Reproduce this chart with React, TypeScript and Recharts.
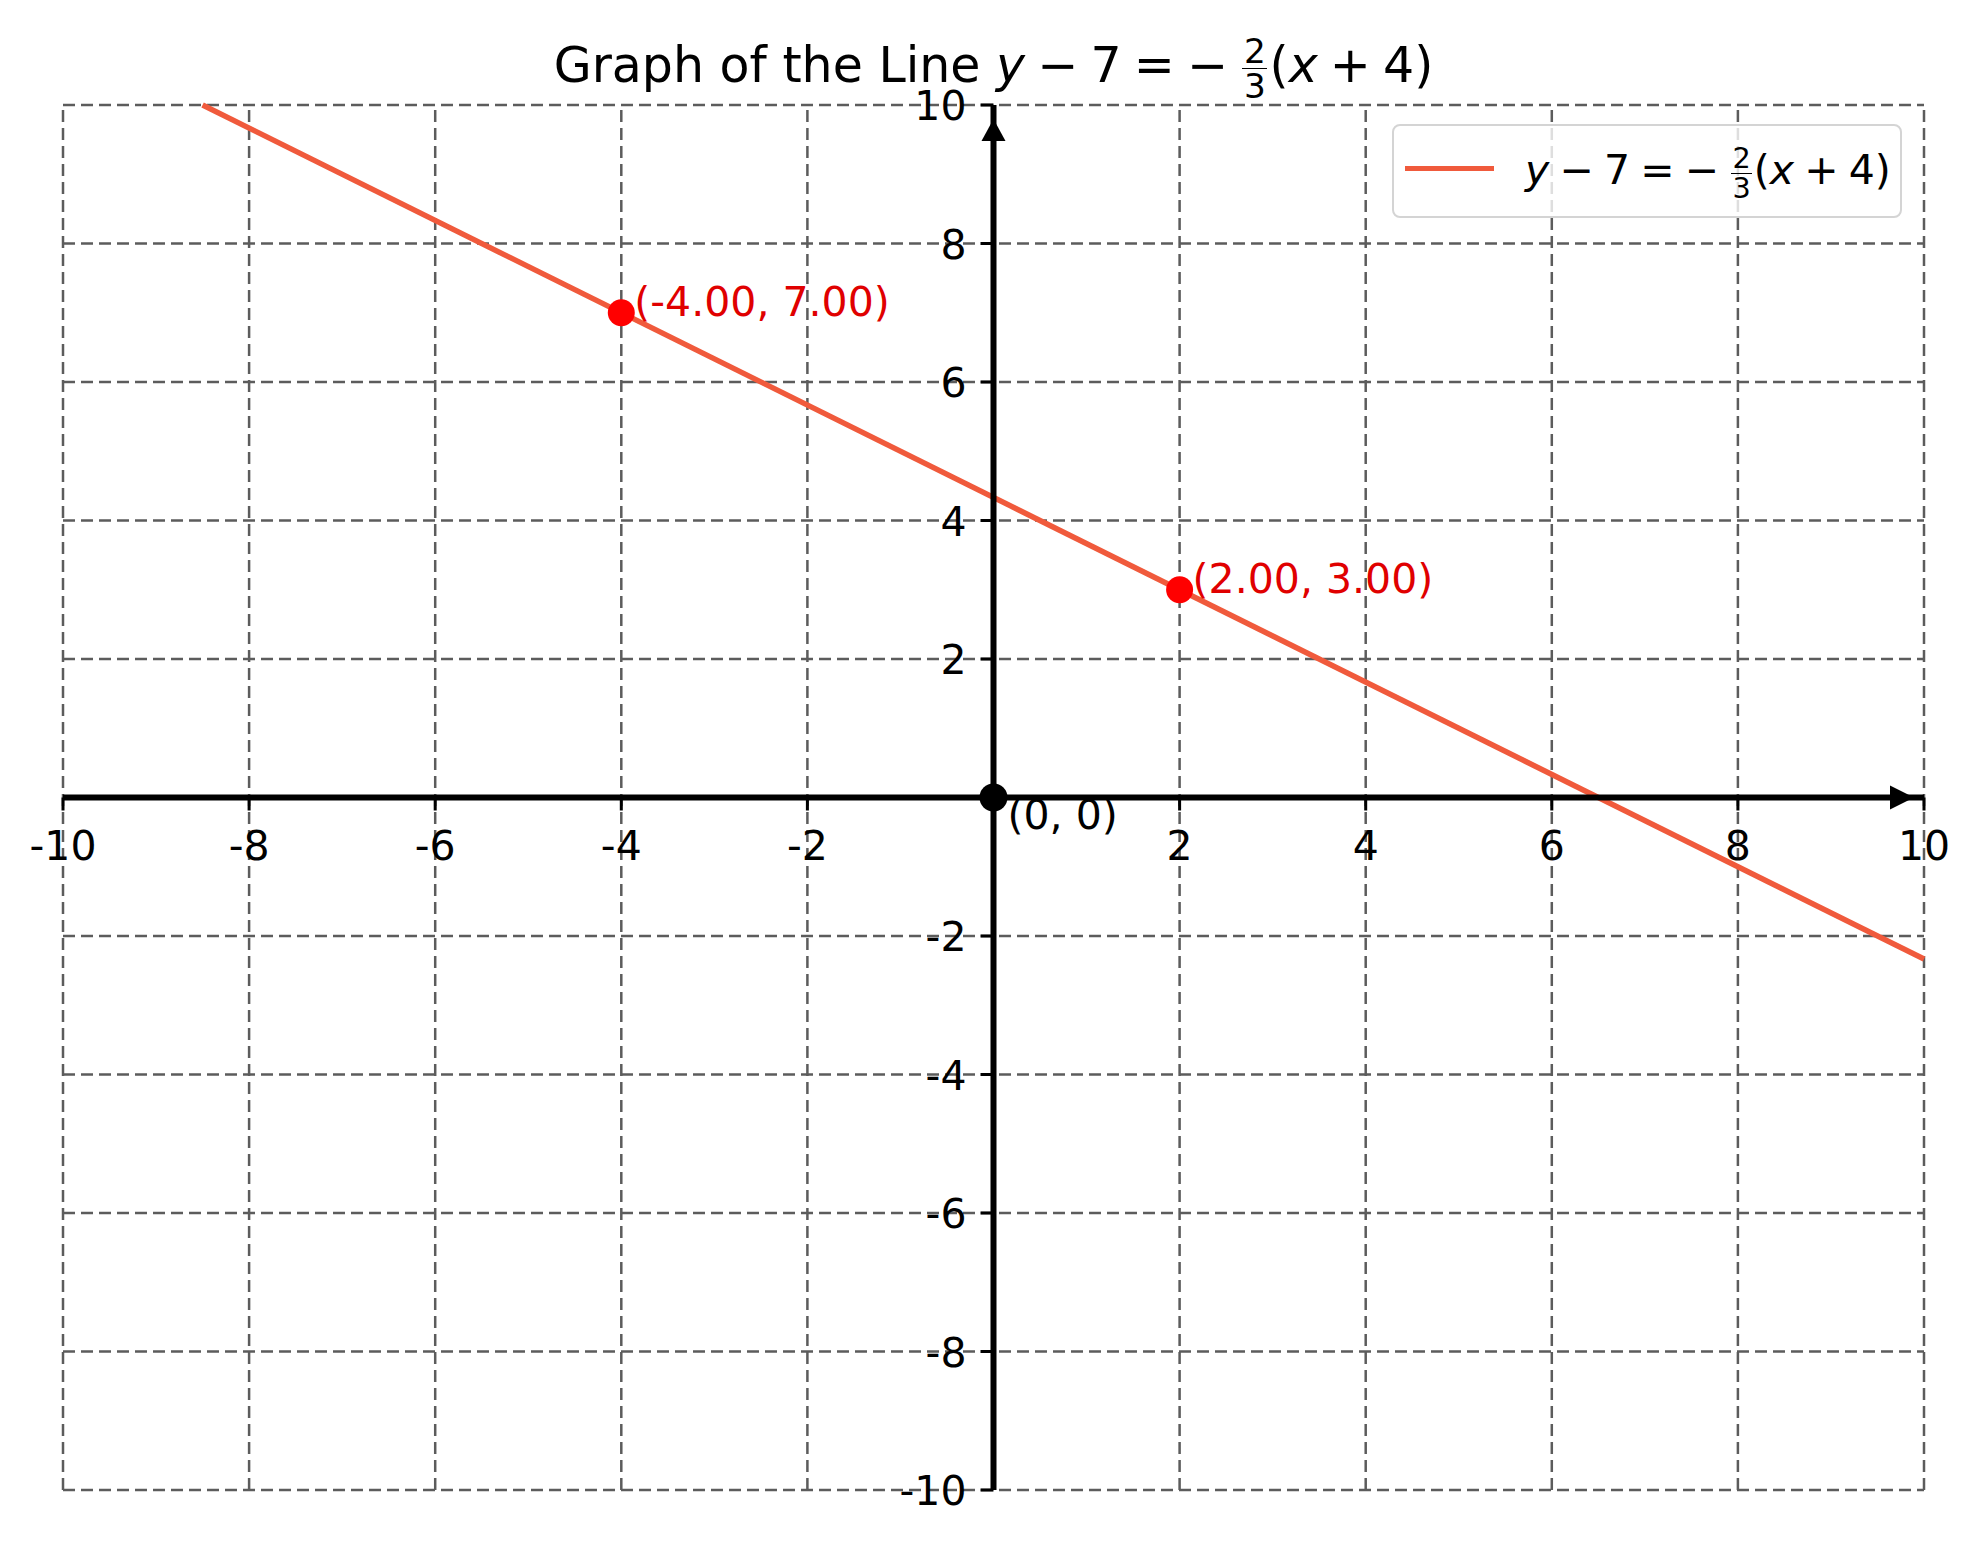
import React from 'react';
import {
    ComposedChart, Line, Scatter, XAxis, YAxis, ReferenceLine,
} from 'recharts';

// values
const gridTicks = [-10, -8, -6, -4, -2, 0, 2, 4, 6, 8, 10];
const xTickLabels = [-10, -8, -6, -4, -2, 2, 4, 6, 8, 10];
const yTickLabels = [-10, -8, -6, -4, -2, 2, 4, 6, 8, 10];
const lineX = [-8.5, 10];
const lineY = [10, -2.333];
const markedX = [-4, 2];
const markedY = [7, 3];
const markedLabels = ['(-4.00, 7.00)', '(2.00, 3.00)'];
const originLabel = '(0, 0)';

const lineData = lineX.map((x, i) => ({ x, y: lineY[i] }));
const markedData = markedX.map((x, i) => ({ x, y: markedY[i], label: markedLabels[i] }));
const originData = [{ x: 0, y: 0, label: originLabel }];
const xTickData = xTickLabels.map(v => ({ x: v, y: 0 }));
const yTickData = yTickLabels.map(v => ({ x: 0, y: v }));

const W = 1980;
const H = 1546;
const FONT = '"DejaVu Sans", sans-serif';
const LINE_COLOR = '#f05a3c';
const GRID = { stroke: '#5c5c5c', strokeDasharray: '12 6', strokeWidth: 2.5 };

function Frac({ n, d }: { n: string; d: string }) {
    return (
        <span style={{
            display: 'inline-flex', flexDirection: 'column', alignItems: 'center',
            verticalAlign: 'middle', fontSize: '0.7em', lineHeight: 1.0, margin: '0 0.06em',
        }}>
            <span>{n}</span>
            <span style={{ borderTop: '1.5px solid #000', padding: '0 0.05em' }}>{d}</span>
        </span>
    );
}

function Equation() {
    return (
        <span style={{ wordSpacing: '-0.07em' }}>
            <i>y</i> − 7 = − <Frac n="2" d="3" />(<i>x</i> + 4)
        </span>
    );
}

const XTick = (p: any) => (
    <g>
        <line x1={p.cx} y1={p.cy} x2={p.cx} y2={p.cy + 13} stroke="#000" strokeWidth={3} />
        <text x={p.cx} y={p.cy + 62} textAnchor="middle" fontSize={41} fontFamily={FONT} fill="#000">
            {p.payload.x}
        </text>
    </g>
);

const YTick = (p: any) => (
    <g>
        <line x1={p.cx - 13} y1={p.cy} x2={p.cx} y2={p.cy} stroke="#000" strokeWidth={3} />
        <text x={p.cx - 27} y={p.cy + 15} textAnchor="end" fontSize={41} fontFamily={FONT} fill="#000">
            {p.payload.y}
        </text>
    </g>
);

const MarkedPoint = (p: any) => (
    <g>
        <circle cx={p.cx} cy={p.cy} r={13.5} fill="#ff0000" />
        <text x={p.cx + 13} y={p.cy + 3} fontSize={41} fontFamily={FONT} fill="#e00000">
            {p.payload.label}
        </text>
    </g>
);

const OriginPoint = (p: any) => (
    <g>
        <circle cx={p.cx} cy={p.cy} r={14} fill="#000" />
        <text x={p.cx + 14} y={p.cy + 31} fontSize={41} fontFamily={FONT} fill="#000">
            {p.payload.label}
        </text>
    </g>
);

const RightArrow = (p: any) => (
    <polygon points={`${p.cx - 10},${p.cy} ${p.cx - 34},${p.cy - 12} ${p.cx - 34},${p.cy + 12}`} fill="#000" />
);

const UpArrow = (p: any) => (
    <polygon points={`${p.cx},${p.cy + 14} ${p.cx - 12},${p.cy + 36} ${p.cx + 12},${p.cy + 36}`} fill="#000" />
);

export default function App() {
    return (
        <div style={{ position: 'absolute', left: 0, top: 0, width: W, height: H, background: '#fff', fontFamily: FONT }}>
            <div style={{
                position: 'absolute', left: 63, width: 1861, top: 34, textAlign: 'center',
                fontSize: 49, lineHeight: 1, color: '#000', whiteSpace: 'nowrap',
            }}>
                Graph of the Line <Equation />
            </div>

            <ComposedChart width={W} height={H} margin={{ top: 105, right: 56, bottom: 56, left: 63 }}>
                <XAxis type="number" dataKey="x" domain={[-10, 10]} ticks={gridTicks}
                    tick={false} axisLine={false} tickLine={false} height={0} />
                <YAxis type="number" dataKey="y" domain={[-10, 10]} ticks={gridTicks}
                    tick={false} axisLine={false} tickLine={false} width={0} />
                {gridTicks.map(v => <ReferenceLine key={`gx${v}`} x={v} {...GRID} />)}
                {gridTicks.map(v => <ReferenceLine key={`gy${v}`} y={v} {...GRID} />)}
                <Line data={lineData} dataKey="y" type="linear" stroke={LINE_COLOR} strokeWidth={5.5}
                    dot={false} activeDot={false} isAnimationActive={false} />
                <ReferenceLine y={0} stroke="#000" strokeWidth={6} />
                <ReferenceLine x={0} stroke="#000" strokeWidth={6} />
                <Scatter data={xTickData} dataKey="y" shape={XTick} isAnimationActive={false} />
                <Scatter data={yTickData} dataKey="y" shape={YTick} isAnimationActive={false} />
                <Scatter data={[{ x: 10, y: 0 }]} dataKey="y" shape={RightArrow} isAnimationActive={false} />
                <Scatter data={[{ x: 0, y: 10 }]} dataKey="y" shape={UpArrow} isAnimationActive={false} />
                <Scatter data={markedData} dataKey="y" shape={MarkedPoint} isAnimationActive={false} />
                <Scatter data={originData} dataKey="y" shape={OriginPoint} isAnimationActive={false} />
            </ComposedChart>

            <div style={{
                position: 'absolute', left: 1392, top: 124, width: 510, height: 94, boxSizing: 'border-box',
                border: '2.5px solid #d4d4d4', borderRadius: 8, background: 'rgba(255,255,255,0.8)',
                fontSize: 41, color: '#000', whiteSpace: 'nowrap',
            }}>
                <div style={{ position: 'absolute', left: 11, top: 40, width: 89, height: 5, background: LINE_COLOR }} />
                <div style={{ position: 'absolute', left: 131, top: 18, lineHeight: 1 }}>
                    <Equation />
                </div>
            </div>
        </div>
    );
}
